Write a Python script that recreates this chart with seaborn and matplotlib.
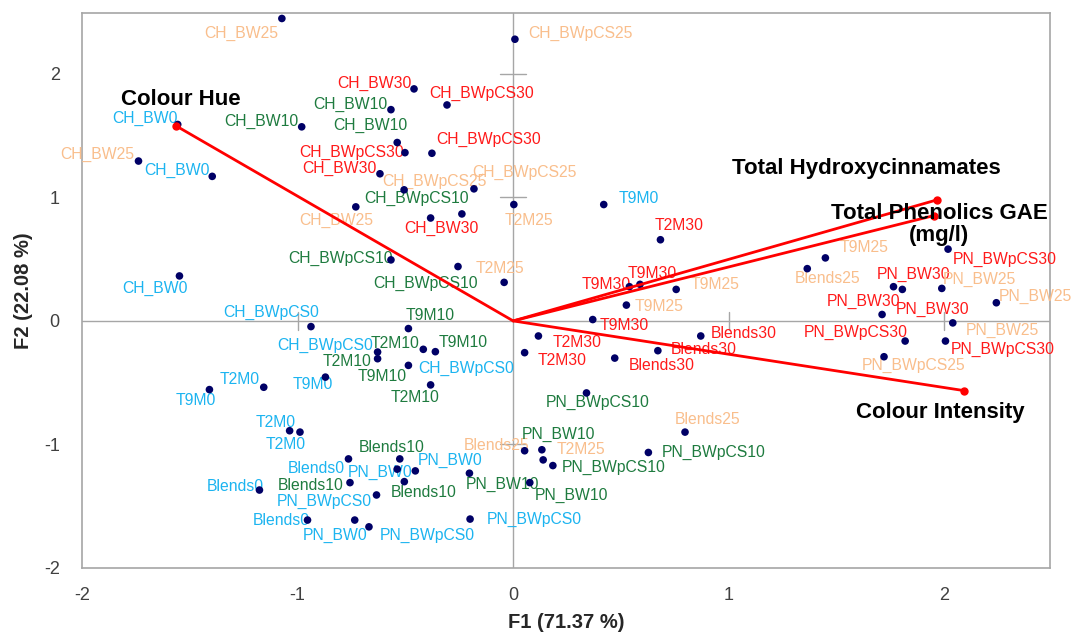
import numpy as np
import pandas as pd
import matplotlib
matplotlib.use("Agg")
import matplotlib.pyplot as plt
import seaborn as sns

# ---- observation scores (F1, F2) ----
obs_f1 = [-1.073, 0.008, -0.46, -0.307, -0.567, -0.981, -1.556, -0.538, -0.502, -0.377,
          -1.738, -1.396, -0.618, -0.506, -0.182, -0.73, -0.383, -0.238, 0.003, -1.548,
          -0.567, -0.256, -0.042, -0.938,
          0.42, 0.683, 1.448, 1.364, 2.017, 0.539, 0.588, 0.756, 0.525, 0.369,
          1.764, 1.805, 1.988, 2.241, 1.711, 2.039,
          -0.486, -0.629, -0.629, -0.417, -0.361, -0.486, -0.383, -0.871, -1.157, -1.409,
          -1.037, -0.989, -0.764, -0.526, -0.538, -0.454, -0.203, -0.757, -0.505, -1.177,
          -0.634, -0.954, -0.735, -0.669, -0.2, 0.053, 0.053, 0.117, 0.077,
          0.471, 0.671, 0.87, 1.818, 2.005, 1.72, 0.34, 0.797, 0.133, 0.139, 0.184, 0.627]
obs_f2 = [2.448, 2.28, 1.878, 1.748, 1.71, 1.571, 1.59, 1.444, 1.362, 1.357,
          1.294, 1.17, 1.191, 1.061, 1.069, 0.923, 0.833, 0.866, 0.942, 0.364,
          0.494, 0.44, 0.312, -0.046,
          0.942, 0.657, 0.51, 0.423, 0.581, 0.277, 0.296, 0.255, 0.128, 0.011,
          0.277, 0.255, 0.263, 0.147, 0.052, -0.016,
          -0.062, -0.252, -0.306, -0.23, -0.249, -0.36, -0.518, -0.455, -0.537, -0.556,
          -0.889, -0.9, -1.117, -1.117, -1.2, -1.214, -1.233, -1.309, -1.301, -1.369,
          -1.409, -1.612, -1.612, -1.667, -1.604, -1.051, -0.257, -0.122, -1.309,
          -0.301, -0.241, -0.122, -0.163, -0.163, -0.29, -0.583, -0.9, -1.043, -1.125, -1.171, -1.065]

# ---- observation labels (text, F1, F2 of label) ----
lab_text = ["CH_BW25", "CH_BWpCS25", "CH_BW30", "CH_BWpCS30", "CH_BW10", "CH_BW0", "CH_BW10",
            "CH_BW10", "CH_BWpCS30", "CH_BW25", "CH_BWpCS30", "CH_BW0", "CH_BW30",
            "CH_BWpCS25", "CH_BWpCS25", "CH_BWpCS10", "CH_BW25", "CH_BW30", "T2M25",
            "CH_BWpCS10", "T2M25", "CH_BWpCS10", "CH_BW0", "CH_BWpCS0", "T9M10",
            "T9M0", "T2M30", "T9M25", "Blends25", "PN_BWpCS30", "PN_BW30", "PN_BW25",
            "PN_BW25", "PN_BW30", "PN_BW30", "T9M30", "T9M30", "T9M25", "T9M25", "PN_BW25",
            "T9M30",
            "CH_BWpCS0", "T2M10", "T9M10", "T2M10", "T9M10", "CH_BWpCS0", "T2M10",
            "T2M0", "T9M0", "T9M0", "T2M0", "T2M0", "Blends10", "Blends25", "PN_BW0",
            "Blends0", "PN_BW0", "Blends0", "Blends10", "Blends10", "PN_BW10",
            "PN_BWpCS0", "Blends0", "PN_BW0", "PN_BWpCS0", "PN_BWpCS0",
            "Blends30", "PN_BWpCS30", "T2M30", "Blends30", "PN_BWpCS30", "T2M30",
            "Blends30", "PN_BWpCS25", "PN_BWpCS10", "Blends25", "PN_BW10", "T2M25",
            "PN_BWpCS10", "PN_BWpCS10", "PN_BW10"]
lab_f1 = [-1.26, 0.311, -0.642, -0.147, -0.754, -1.709, -1.169,
          -0.661, -0.115, -1.928, -0.749, -1.559, -0.807,
          -0.363, 0.05, -0.447, -0.823, -0.331, 0.072,
          -0.802, -0.06, -0.406, -1.66, -1.121, -0.387,
          0.581, 0.768, 1.626, 1.46, 2.28, 1.856, 2.161,
          2.421, 1.623, 1.946, 0.433, 0.646, 0.935, 0.675, 2.268,
          0.513,
          -0.874, -0.546, -0.23, -0.77, -0.607, -0.219, -0.454,
          -1.27, -0.93, -1.473, -1.102, -1.053, -0.562, -0.077, -0.291,
          -0.914, -0.618, -1.288, -0.938, -0.415, -0.05,
          -0.874, -1.077, -0.826, -0.398, 0.1,
          1.071, 1.587, 0.297, 0.884, 2.272, 0.228,
          0.688, 1.856, 0.394, 0.901, 0.212, 0.313,
          0.929, 0.467, 0.27]
lab_f2 = [2.331, 2.326, 1.924, 1.843, 1.753, 1.642, 1.617,
          1.579, 1.471, 1.346, 1.362, 1.221, 1.235,
          1.129, 1.205, 0.988, 0.811, 0.752, 0.814,
          0.507, 0.426, 0.304, 0.263, 0.068, 0.046,
          0.988, 0.771, 0.597, 0.345, 0.499, 0.377, 0.339,
          0.195, 0.16, 0.092, 0.298, 0.385, 0.298, 0.114, -0.076,
          -0.041,
          -0.198, -0.184, -0.171, -0.325, -0.447, -0.388, -0.623,
          -0.474, -0.515, -0.642, -0.821, -0.997, -1.024, -1.011, -1.13,
          -1.198, -1.228, -1.341, -1.333, -1.39, -1.322,
          -1.458, -1.612, -1.74, -1.74, -1.607,
          -0.103, -0.095, -0.176, -0.23, -0.23, -0.317,
          -0.36, -0.36, -0.656, -0.794, -0.921, -1.038,
          -1.062, -1.184, -1.409]

# ---- variable loadings (biplot vectors) ----
var_names = ["Colour Hue", "Total Hydroxycinnamates", "Total Phenolics GAE\n(mg/l)", "Colour Intensity"]
var_f1 = [-1.564, 1.966, 1.95, 2.09]
var_f2 = [1.579, 0.98, 0.852, -0.564]
var_lab_f1 = [-1.541, 1.64, 1.975, 1.983]
var_lab_f2 = [1.796, 1.232, 0.78, -0.745]

xticks = [-2, -1, 0, 1, 2]
yticks = [-2, -1, 0, 1, 2]
xlabel = "F1 (71.37 %)"
ylabel = "F2 (22.08 %)"

level_colors = {"0": "#1CB4F0", "10": "#1E7B3F", "25": "#F9BE8C", "30": "#FF1A1A"}


def level_of(name):
    for suf in ["10", "25", "30", "0"]:
        if name.endswith(suf):
            return suf
    return "0"


sns.set_style("white")
plt.rcParams["font.family"] = ["Liberation Sans", "DejaVu Sans"]
plt.rcParams["axes.unicode_minus"] = False

fig = plt.figure(figsize=(10.72, 6.33), dpi=100)
ax = fig.add_axes([0.0765, 0.1027, 0.9795 - 0.0765, 0.979 - 0.1027])
ax.set_xlim(-2, 2.49)
ax.set_ylim(-2, 2.49)

# zero lines
ax.axhline(0, color="#A6A6A6", lw=1.0, zorder=1)
ax.axvline(0, color="#A6A6A6", lw=1.0, zorder=1)
# small tick crosses on zero lines
for t in xticks:
    if t != 0 and -2 < t < 2.49:
        ax.plot([t, t], [-0.07, 0.07], color="#A6A6A6", lw=1.0, zorder=1)
for t in yticks:
    if t != 0 and -2 < t < 2.49:
        ax.plot([-0.06, 0.06], [t, t], color="#A6A6A6", lw=1.0, zorder=1)

# observation points
obs = pd.DataFrame({"F1": obs_f1, "F2": obs_f2})
sns.scatterplot(data=obs, x="F1", y="F2", ax=ax, color="#000066", s=30,
                edgecolor="none", zorder=4, legend=False)

# observation labels
for t, x, y in zip(lab_text, lab_f1, lab_f2):
    ax.text(x, y, t, color=level_colors[level_of(t)], fontsize=11.3,
            ha="center", va="center", zorder=3)

# variable vectors
for x, y in zip(var_f1, var_f2):
    ax.plot([0, x], [0, y], color="#FF0000", lw=2.0, zorder=5)
    ax.plot([x], [y], "o", color="#FF0000", ms=5, zorder=5)
for name, x, y in zip(var_names, var_lab_f1, var_lab_f2):
    ax.text(x, y, name, fontsize=16, fontweight="bold", color="black",
            ha="center", va="center", zorder=6, linespacing=1.1)

# axes styling
ax.set_xticks(xticks)
ax.set_yticks(yticks)
ax.tick_params(axis="x", length=0, labelsize=13, labelcolor="#404040", pad=14)
ax.tick_params(axis="y", length=0, labelsize=13, labelcolor="#404040", pad=16)
for sp in ax.spines.values():
    sp.set_color("#A6A6A6")
    sp.set_linewidth(1.2)
ax.set_xlabel(xlabel, fontsize=14.5, fontweight="bold", labelpad=6)
ax.set_ylabel(ylabel, fontsize=14.5, fontweight="bold", labelpad=8)

fig.savefig("out.png", dpi=100)
